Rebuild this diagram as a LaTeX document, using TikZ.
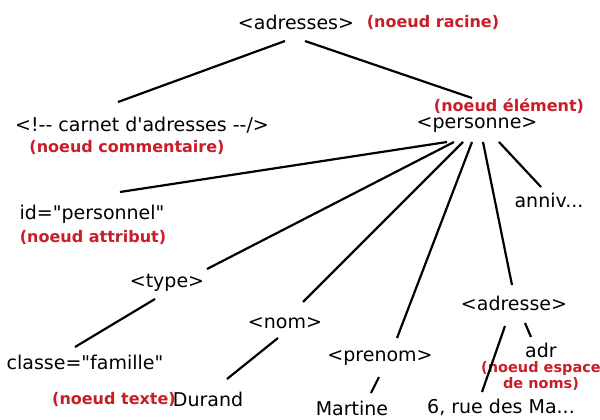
\documentclass[tikz,border=0pt]{standalone}
\usepackage{fontspec}
\newfontfamily\dvsans{DejaVu Sans}
\usetikzlibrary{calc}
\definecolor{lblred}{RGB}{200,30,40}
\tikzset{
  xmlnode/.style={inner sep=0pt, font=\dvsans\fontsize{19}{22}\selectfont, text=black},
  redlbl/.style={inner sep=0pt, font=\dvsans\fontsize{16}{17}\selectfont\bfseries, text=lblred, align=center},
  edge/.style={draw=black, line width=2.2pt}
}
\begin{document}
\begin{tikzpicture}[x=1pt,y=-1pt]
\fill[white] (0,0) rectangle (600,420);
\useasboundingbox (0,0) rectangle (600,420);
% nodes
\node[xmlnode] (adresses) at (296,22) {<adresses>};
\node[redlbl] (racine) at (433,22) {(noeud racine)};
\node[xmlnode] (comment) at (142,125) {<!-- carnet d'adresses --/>};
\node[redlbl] (commentaire) at (127,147) {(noeud commentaire)};
\node[xmlnode] (personne) at (477,125) {<personne>};
\node[redlbl] (element) at (509,106) {(noeud élément)};
\node[xmlnode] (id) at (92,214) {id="personnel"};
\node[redlbl] (attribut) at (93,237) {(noeud attribut)};
\node[xmlnode] (anniv) at (549,200) {anniv...};
\node[xmlnode] (type) at (167,283) {<type>};
\node[xmlnode] (classe) at (85,362) {classe="famille"};
\node[xmlnode] (nom) at (285,323) {<nom>};
\node[redlbl] (texte) at (114,399) {(noeud texte)};
\node[xmlnode] (durand) at (208,399) {Durand};
\node[xmlnode] (prenom) at (380,358) {<prenom>};
\node[xmlnode] (martine) at (352,408) {Martine};
\node[xmlnode] (adresse) at (514,303) {<adresse>};
\node[xmlnode] (adr) at (541,350) {adr};
\node[redlbl, font=\dvsans\fontsize{14.5}{16}\selectfont\bfseries] (espace) at (541,376) {(noeud espace\\de noms)};
\node[xmlnode] (rue) at (501,407) {6, rue des Ma...};
% connectors
\draw[edge] ($(adresses)+(-11,19)$) -- ($(comment)+(-24,-23)$);
\draw[edge] ($(adresses)+(9,19)$) -- ($(personne)+(-5,-27)$);
\draw[edge] ($(personne)+(-30,17)$) -- ($(id)+(28,-22)$);
\draw[edge] ($(personne)+(-23,17)$) -- ($(type)+(40,-14)$);
\draw[edge] ($(personne)+(-14,17)$) -- ($(nom)+(18,-21)$);
\draw[edge] ($(personne)+(-5,17)$) -- ($(prenom)+(17,-20)$);
\draw[edge] ($(personne)+(6,17)$) -- ($(adresse)+(-2,-18)$);
\draw[edge] ($(personne)+(22,17)$) -- ($(anniv)+(-8,-13)$);
\draw[edge] ($(type)+(-12,16)$) -- ($(classe)+(-10,-15)$);
\draw[edge] ($(nom)+(-7,15)$) -- ($(durand)+(19,-20)$);
\draw[edge] ($(prenom)+(-1,19)$) -- ($(martine)+(19,-15)$);
\draw[edge] ($(adresse)+(-9,23)$) -- ($(rue)+(-19,-15)$);
\draw[edge] ($(adresse)+(11,20)$) -- ($(adr)+(-10,-13)$);
\end{tikzpicture}
\end{document}
